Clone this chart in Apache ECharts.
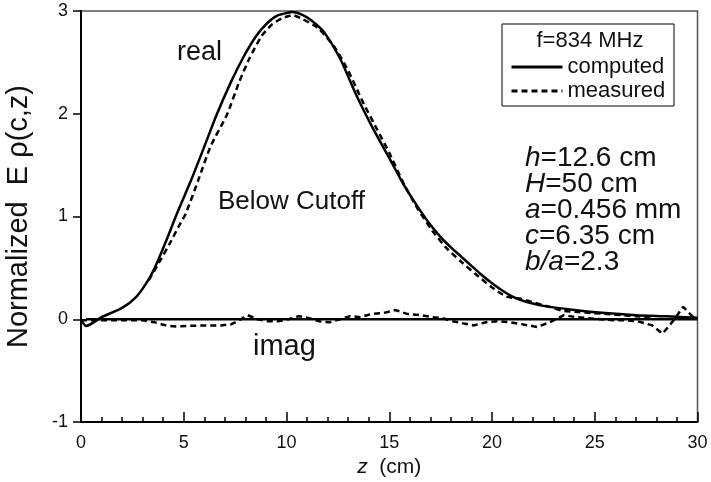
<!DOCTYPE html>
<html>
<head>
<meta charset="utf-8">
<script src="https://cdn.jsdelivr.net/npm/echarts@6/dist/echarts.min.js"></script>
<style>
  html, body { margin: 0; padding: 0; background: #fff; }
  #chart { width: 711px; height: 482px; }
</style>
</head>
<body>
<div id="chart"></div>
<script>
// computed (real part)
const compZ = [0, 0.25, 1, 2, 2.7, 3.3, 3.7, 4.2, 4.65, 5.35, 6, 6.6, 7.3, 7.9, 8.5, 9, 9.5, 10, 10.3, 10.8, 11.2, 11.8, 12.6, 13.4, 14.2, 15, 15.7, 16.5, 17, 17.5, 18, 18.5, 19, 19.5, 20, 20.5, 21, 21.5, 22.5, 24, 25.5, 27, 28.5, 30];
const compReal = [0, -0.065, 0.02, 0.11, 0.22, 0.39, 0.55, 0.79, 1.02, 1.35, 1.68, 1.99, 2.31, 2.55, 2.75, 2.87, 2.95, 2.98, 2.99, 2.96, 2.91, 2.80, 2.54, 2.18, 1.86, 1.57, 1.31, 1.06, 0.92, 0.80, 0.70, 0.61, 0.52, 0.43, 0.35, 0.28, 0.22, 0.18, 0.13, 0.09, 0.06, 0.04, 0.028, 0.015];

// computed (imag part)
const compImagZ = [0.25, 30];
const compImag = [0, 0];

// measured (real part)
const measZ = [3.3, 3.85, 4.3, 4.8, 5.1, 5.7, 6.3, 7.1, 7.7, 8.2, 8.8, 9.3, 9.8, 10.3, 10.8, 11.5, 12.3, 13, 13.7, 14.4, 15, 15.7, 16.4, 17.1, 17.8, 18.5, 19.2, 20, 20.7, 21.4, 22.1, 22.8, 23.5, 24.2, 24.9, 25.6, 26.3, 27, 27.7];
const measReal = [0.38, 0.57, 0.73, 0.92, 1.03, 1.35, 1.68, 1.99, 2.31, 2.54, 2.76, 2.87, 2.93, 2.96, 2.92, 2.84, 2.66, 2.42, 2.12, 1.85, 1.62, 1.32, 1.07, 0.86, 0.69, 0.56, 0.44, 0.31, 0.22, 0.20, 0.16, 0.12, 0.08, 0.07, 0.06, 0.05, 0.04, 0.03, 0.02];

// measured (imag part)
const measImagZ = [0, 1, 2, 3, 3.6, 4.2, 4.6, 5.2, 6, 6.8, 7.3, 7.7, 8.1, 8.6, 9.1, 9.6, 10.1, 10.6, 11.1, 11.6, 12.1, 12.6, 13.1, 13.6, 14.1, 14.7, 15.3, 15.9, 16.5, 17.1, 17.6, 18.1, 18.6, 19.1, 19.7, 20.3, 20.9, 21.5, 22.2, 22.8, 23.5, 24.1, 24.7, 25.3, 25.9, 26.5, 27.1, 27.8, 28.3, 28.8, 29.3, 29.8];
const measImag = [-0.01, -0.01, -0.01, -0.01, -0.03, -0.065, -0.07, -0.065, -0.06, -0.06, -0.05, -0.01, 0.04, 0.0, -0.02, -0.02, 0.0, 0.03, 0.01, -0.02, -0.03, 0.0, 0.03, 0.02, 0.05, 0.06, 0.09, 0.05, 0.04, 0.02, 0.01, -0.02, -0.04, -0.06, -0.03, -0.02, -0.03, -0.05, -0.075, -0.03, 0.04, 0.02, 0.01, 0.0, -0.01, -0.01, -0.02, -0.06, -0.14, -0.02, 0.12, 0.02];

// parameter labels
const params = [
    ['h', '=12.6 cm'],
    ['H', '=50 cm'],
    ['a', '=0.456 mm'],
    ['c', '=6.35 cm'],
    ['b/a', '=2.3']
];

const FONT = 'Liberation Sans, Arial, sans-serif';

function pairs(xs, ys) {
    let out = [];
    for (let i = 0; i < xs.length; i++) {
        out.push([xs[i], ys[i]]);
    }
    return out;
}

const chart = echarts.init(document.getElementById('chart'), null, { renderer: 'canvas' });

const solid = { color: '#000', width: 2.5, type: 'solid' };
const dashed = { color: '#000', width: 2.5, type: [6, 4] };

// text blocks drawn on top
let graphics = [
    { type: 'text', left: 177, top: 39, style: { text: 'real', font: '27px ' + FONT, fill: '#111' } },
    { type: 'text', left: 218, top: 189, style: { text: 'Below Cutoff', font: '26px ' + FONT, fill: '#111' } },
    { type: 'text', left: 253, top: 332, style: { text: 'imag', font: '29px ' + FONT, fill: '#111' } },
    {
        type: 'rect', shape: { x: 502, y: 24, width: 172, height: 82 },
        style: { fill: 'none', stroke: '#000', lineWidth: 1 }
    },
    { type: 'text', x: 590, y: 41, style: { text: 'f=834 MHz', font: '22px ' + FONT, fill: '#111', align: 'center', verticalAlign: 'middle' } }
];

for (let i = 0; i < params.length; i++) {
    graphics.push({
        type: 'text', x: 525, y: 158 + i * 26,
        style: {
            text: '{i|' + params[i][0] + '}' + params[i][1],
            font: '28px ' + FONT,
            fill: '#111',
            verticalAlign: 'middle',
            rich: { i: { fontStyle: 'italic', fontSize: 28, fontFamily: FONT } }
        }
    });
}

const option = {
    animation: false,
    backgroundColor: '#fff',
    color: ['#000'],
    grid: {
        left: 81, right: 13.5, top: 11, bottom: 60,
        outerBoundsMode: 'none', containLabel: false,
        show: true, borderColor: '#555', borderWidth: 1.5
    },
    legend: {
        data: ['computed', 'measured'],
        orient: 'vertical',
        left: 510, top: 56, padding: 0,
        itemWidth: 51, itemHeight: 12, itemGap: 2,
        itemStyle: { color: 'transparent', borderWidth: 0, opacity: 0 },
        lineStyle: { width: 3 },
        textStyle: { fontSize: 22, fontFamily: FONT, color: '#111' }
    },
    xAxis: {
        type: 'value', min: 0, max: 30, interval: 5,
        name: '{i|z}  (cm)',
        nameLocation: 'middle', nameGap: 30,
        nameTextStyle: {
            fontSize: 21, fontFamily: FONT, color: '#111',
            rich: { i: { fontStyle: 'italic', fontSize: 21, fontFamily: FONT, color: '#111' } }
        },
        axisLine: { onZero: false, lineStyle: { color: '#000', width: 2 } },
        axisTick: { inside: true, length: 10, lineStyle: { color: '#000', width: 1.5 } },
        minorTick: { show: true, splitNumber: 5, length: 5, lineStyle: { color: '#000', width: 1.5 } },
        axisLabel: { fontSize: 18, fontFamily: FONT, color: '#111', margin: 12 },
        splitLine: { show: false }
    },
    yAxis: {
        type: 'value', min: -1, max: 3, interval: 1,
        name: 'Normalized  E ρ(c,z)',
        nameLocation: 'middle', nameGap: 48,
        nameTextStyle: { fontSize: 29, fontFamily: FONT, color: '#111' },
        axisLine: { lineStyle: { color: '#000', width: 2 } },
        axisTick: { inside: false, length: 8, lineStyle: { color: '#000', width: 1.5 } },
        axisLabel: { fontSize: 18, fontFamily: FONT, color: '#111', margin: 13 },
        splitLine: { show: false }
    },
    series: [
        {
            name: 'computed', type: 'line', symbol: 'none', smooth: 0.25,
            lineStyle: solid, data: pairs(compZ, compReal)
        },
        {
            name: 'computed', type: 'line', symbol: 'none',
            lineStyle: solid, data: pairs(compImagZ, compImag)
        },
        {
            name: 'measured', type: 'line', symbol: 'none', smooth: 0.2,
            lineStyle: dashed, data: pairs(measZ, measReal)
        },
        {
            name: 'measured', type: 'line', symbol: 'none',
            lineStyle: dashed, data: pairs(measImagZ, measImag)
        }
    ],
    graphic: graphics
};

chart.setOption(option);
</script>
</body>
</html>
